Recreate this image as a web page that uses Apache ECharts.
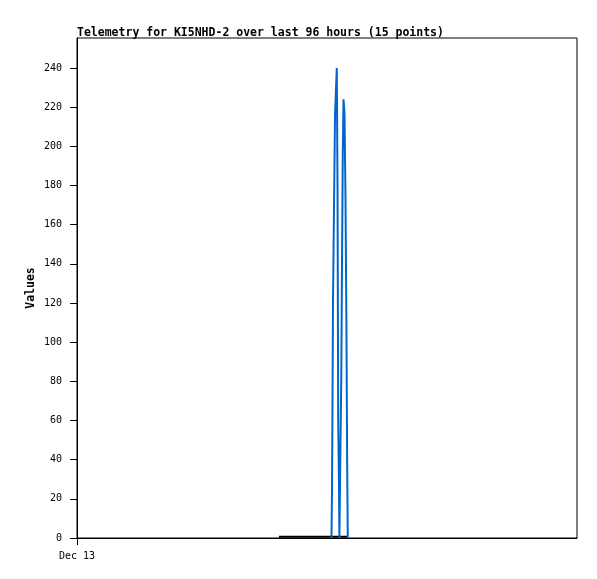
<!DOCTYPE html>
<html>
<head>
<meta charset="utf-8">
<script src="https://cdn.jsdelivr.net/npm/echarts@6/dist/echarts.min.js"></script>
<style>
  html, body { margin: 0; padding: 0; background: #fff; }
  #chart { width: 597px; height: 579px; }
</style>
</head>
<body>
<div id="chart"></div>
<script>
// hours since Dec 13 00:00
var blueHours = [48.86, 48.96, 49.06, 49.15, 49.34, 49.54, 49.88, 50.02, 50.15, 50.30, 50.38,
                 50.65, 50.75, 50.88, 51.03, 51.17, 51.36, 51.55, 51.74, 51.88, 51.99]
var blueValues = [0, 24, 72, 120, 168, 216, 240, 180, 60, 28, 0,
                  0, 84, 140, 196, 224, 217, 174, 104, 35, 0]
var blackHours = [38.78, 52.03]
var blackValues = [0.7, 0.7]
var xLabels = ['Dec 13']

var font = 'DejaVu Sans Mono'

function pairs (xs, ys) {
    var out = []
    for (let i = 0; i < xs.length; i++) {
        out.push([xs[i], ys[i]])
    }
    return out
}

var chart = echarts.init(document.getElementById('chart'))
chart.setOption({
    animation: false,
    backgroundColor: '#fff',
    title: {
        text: 'Telemetry for KI5NHD-2 over last 96 hours (15 points)',
        left: 72,
        top: 22,
        textStyle: { fontFamily: font, fontSize: 11.5, fontWeight: 'bold', color: '#000' }
    },
    grid: {
        left: 77, right: 20, top: 38, bottom: 41,
        show: true, borderColor: '#000', borderWidth: 1, backgroundColor: '#fff'
    },
    xAxis: {
        type: 'value',
        min: 0,
        max: 96,
        axisLine: { lineStyle: { color: '#000', width: 1 } },
        axisTick: { show: true, customValues: [0], length: 7, lineStyle: { color: '#000' } },
        axisLabel: {
            customValues: [0],
            formatter: function () { return xLabels[0] },
            fontFamily: font, fontSize: 10, color: '#000', margin: 13
        },
        splitLine: { show: false }
    },
    yAxis: {
        type: 'value',
        min: 0,
        max: 255.3,
        interval: 20,
        name: 'Values',
        nameLocation: 'middle',
        nameGap: 40,
        nameMoveOverlap: false,
        nameTextStyle: { fontFamily: font, fontSize: 11.5, fontWeight: 'bold', color: '#000' },
        axisLine: { show: true, lineStyle: { color: '#000', width: 1 } },
        axisTick: { show: true, length: 7, lineStyle: { color: '#000' } },
        axisLabel: {
            showMaxLabel: false,
            formatter: function (v) { return v % 20 === 0 ? String(v) : '' },
            fontFamily: font, fontSize: 10, color: '#000', margin: 15
        },
        splitLine: { show: false }
    },
    series: [
        {
            type: 'line',
            data: pairs(blackHours, blackValues),
            showSymbol: false,
            lineStyle: { color: '#000', width: 2 },
            z: 2
        },
        {
            type: 'line',
            data: pairs(blueHours, blueValues),
            showSymbol: false,
            lineStyle: { color: '#0066cc', width: 2 },
            z: 3
        }
    ]
})
</script>
</body>
</html>
